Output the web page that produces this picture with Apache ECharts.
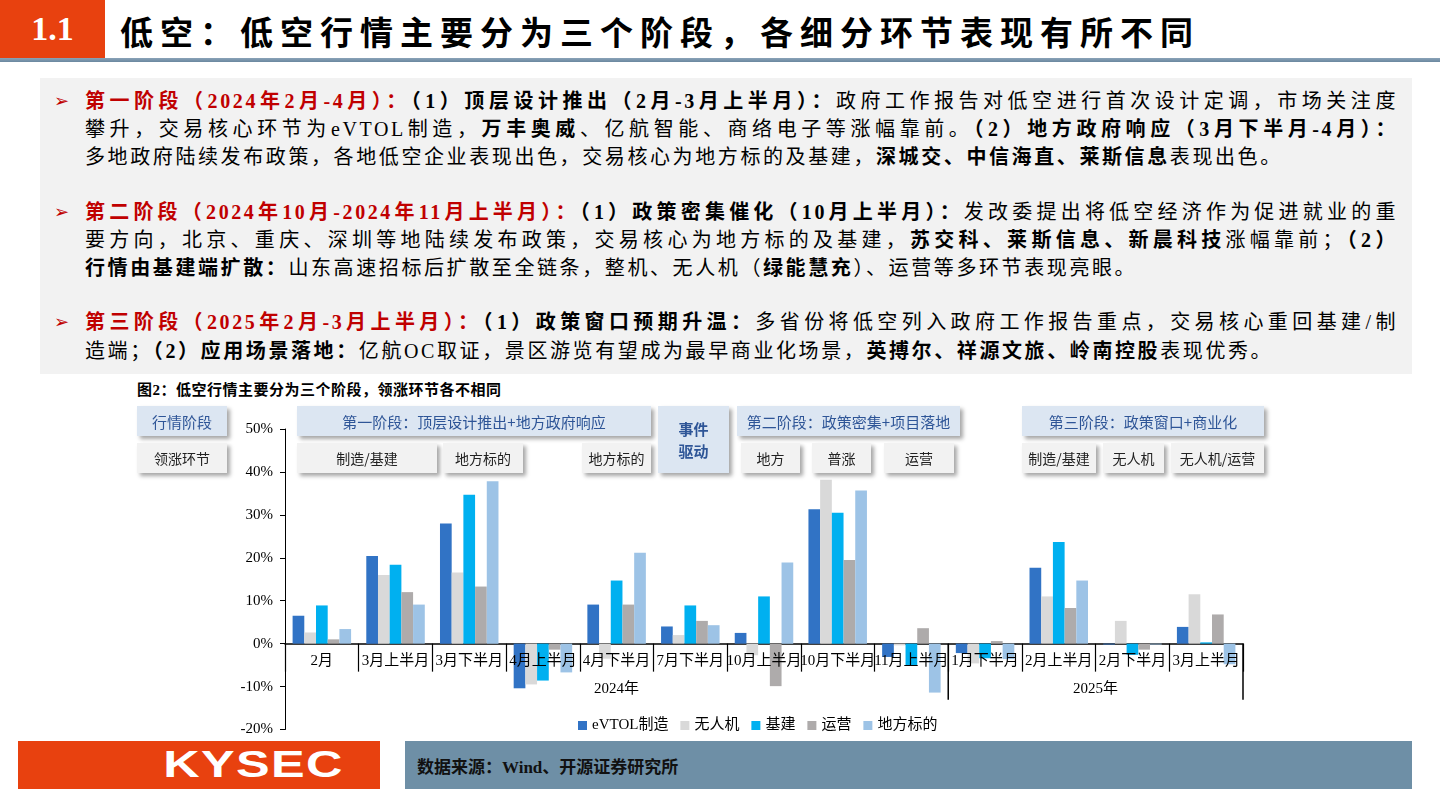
<!DOCTYPE html>
<html><head><meta charset="utf-8">
<script src="https://cdn.jsdelivr.net/npm/echarts/dist/echarts.min.js"></script>
<style>
body{margin:0;width:1440px;height:810px;position:relative;background:#fff;overflow:hidden;font-family:"Liberation Serif","Noto Sans CJK SC",serif;color:#000;}
.abs{position:absolute;}
#titlebox{left:0;top:0;width:105px;height:58px;background:#E8410F;color:#fff;font:bold 34px "Liberation Serif",serif;display:flex;align-items:center;justify-content:center;}
#title{left:120px;top:7px;font-size:33px;font-weight:bold;letter-spacing:7px;white-space:nowrap;font-family:"Noto Sans CJK SC",sans-serif;}
#uline{left:0;top:58px;width:1440px;height:4px;background:linear-gradient(#8aa3b8,#6a879f);}
#block{left:40px;top:78px;width:1372px;height:296px;background:#F2F2F2;}
.ln{position:absolute;left:85px;width:1313px;font-size:20px;letter-spacing:2.6px;white-space:nowrap;line-height:28px;}
.j{text-align:justify;text-align-last:justify;white-space:normal;}
.red{color:#C00000;font-weight:bold;}
b{font-weight:bold;}
.arr{position:absolute;left:54px;color:#C00000;font-size:18px;line-height:28px;}
#cap{left:137px;top:378px;font-size:15px;font-weight:bold;letter-spacing:0.5px;white-space:nowrap;}
#chart{left:0;top:0;width:1440px;height:810px;z-index:1;}
.hb{position:absolute;z-index:2;background:#DCE6F2;color:#2E5597;box-shadow:3px 3px 4px rgba(0,0,0,0.35);display:flex;align-items:center;justify-content:center;font-size:15px;height:30px;top:406px;font-family:"Noto Sans CJK SC",sans-serif;white-space:nowrap;}
.sb{background:#F2F2F2;color:#222;top:443px;font-size:14px;}
#foot1{left:18px;top:741px;width:362px;height:48px;background:#E8410F;display:flex;align-items:center;justify-content:center;padding-left:110px;box-sizing:border-box;}
#foot1 span{color:#fff;font:bold 36px "Liberation Sans",Arial,sans-serif;display:inline-block;transform:scaleX(1.4);letter-spacing:1px;}
#foot2{left:405px;top:741px;width:1007px;height:48px;background:#6E8FA6;color:#111;font-size:17px;font-weight:bold;display:flex;align-items:center;padding-left:12px;box-sizing:border-box;}
</style></head>
<body>
<div id="titlebox" class="abs">1.1</div>
<div id="title" class="abs">低空：低空行情主要分为三个阶段，各细分环节表现有所不同</div>
<div id="uline" class="abs"></div>
<div id="block" class="abs"></div>
<div class="arr" style="top:87px">➢</div>
<div class="ln j" style="top:87px"><span class="red">第一阶段（2024年2月-4月）：</span><b>（1）顶层设计推出（2月-3月上半月）：</b>政府工作报告对低空进行首次设计定调，市场关注度</div>
<div class="ln j" style="top:115px">攀升，交易核心环节为eVTOL制造，<b>万丰奥威</b>、亿航智能、商络电子等涨幅靠前。<b>（2）地方政府响应（3月下半月-4月）：</b></div>
<div class="ln" style="top:143px">多地政府陆续发布政策，各地低空企业表现出色，交易核心为地方标的及基建，<b>深城交、中信海直、莱斯信息</b>表现出色。</div>
<div class="arr" style="top:198px">➢</div>
<div class="ln j" style="top:198px"><span class="red">第二阶段（2024年10月-2024年11月上半月）：</span><b>（1）政策密集催化（10月上半月）：</b>发改委提出将低空经济作为促进就业的重</div>
<div class="ln j" style="top:226px">要方向，北京、重庆、深圳等地陆续发布政策，交易核心为地方标的及基建，<b>苏交科、莱斯信息、新晨科技</b>涨幅靠前；<b>（2）</b></div>
<div class="ln" style="top:254px"><b>行情由基建端扩散：</b>山东高速招标后扩散至全链条，整机、无人机（<b>绿能慧充</b>）、运营等多环节表现亮眼。</div>
<div class="arr" style="top:308px">➢</div>
<div class="ln j" style="top:308px"><span class="red">第三阶段（2025年2月-3月上半月）：</span><b>（1）政策窗口预期升温：</b>多省份将低空列入政府工作报告重点，交易核心重回基建/制</div>
<div class="ln" style="top:337px">造端；<b>（2）应用场景落地：</b>亿航OC取证，景区游览有望成为最早商业化场景，<b>英搏尔、祥源文旅、岭南控股</b>表现优秀。</div>
<div id="cap" class="abs">图2：低空行情主要分为三个阶段，领涨环节各不相同</div>
<div id="chart" class="abs"></div>
<div class="hb" style="left:137px;width:90px;">行情阶段</div>
<div class="hb sb" style="left:137px;width:90px;">领涨环节</div>
<div class="hb" style="left:297px;width:354px;">第一阶段：顶层设计推出+地方政府响应</div>
<div class="hb sb" style="left:297px;width:140px;">制造/基建</div>
<div class="hb sb" style="left:443px;width:80px;">地方标的</div>
<div class="hb sb" style="left:582px;width:69px;">地方标的</div>
<div class="hb" style="left:658px;width:71px;height:67px;flex-direction:column;font-weight:bold;line-height:22px;"><span>事件</span><span>驱动</span></div>
<div class="hb" style="left:737px;width:223px;">第二阶段：政策密集+项目落地</div>
<div class="hb sb" style="left:741px;width:59px;">地方</div>
<div class="hb sb" style="left:812px;width:59px;">普涨</div>
<div class="hb sb" style="left:884px;width:70px;">运营</div>
<div class="hb" style="left:1022px;width:242px;">第三阶段：政策窗口+商业化</div>
<div class="hb sb" style="left:1022px;width:74px;">制造/基建</div>
<div class="hb sb" style="left:1103px;width:61px;">无人机</div>
<div class="hb sb" style="left:1171px;width:93px;">无人机/运营</div>
<div id="foot1" class="abs"><span>KYSEC</span></div>
<div id="foot2" class="abs">数据来源：Wind、开源证券研究所</div>
<script>
const categories = ['2月','3月上半月','3月下半月','4月上半月','4月下半月','7月下半月','10月上半月','10月下半月','11月上半月','1月下半月','2月上半月','2月下半月','3月上半月'];
const years = ['2024年','2025年'];
const yearSpans = [9, 4];
const seriesNames = ['eVTOL制造','无人机','基建','运营','地方标的'];
const evtol = [6.5, 20.4, 28.0, -10.4, 9.1, 4.0, 2.5, 31.3, -3.1, -2.2, 17.7, -0.2, 3.9];
const drone = [2.6, 16.0, 16.6, -9.5, -3.5, 2.0, -2.7, 38.2, -0.4, -4.6, 11.0, 5.3, 11.5];
const infra = [8.9, 18.4, 34.7, -8.6, 14.7, 8.9, 11.0, 30.5, -5.0, -3.4, 23.7, -2.6, 0.3];
const ops = [1.0, 12.0, 13.3, -1.4, 9.1, 5.3, -9.9, 19.5, 3.6, 0.6, 8.3, -1.4, 6.8];
const local = [3.4, 9.1, 37.8, -6.7, 21.2, 4.3, 18.9, 35.7, -11.4, -3.6, 14.7, -0.2, -4.8];
const colors = ['#3173C5','#D9D9D9','#00B0F0','#AEABAB','#9DC3E6'];
const yTicks = {min:-20, max:50, interval:10};

const FONT = '"Liberation Serif","Noto Sans CJK SC",serif';
const chart = echarts.init(document.getElementById('chart'), null, {renderer:'canvas'});
const dataSets = [evtol, drone, infra, ops, local];
const option = {
  animation:false,
  color: colors,
  grid:{left:285, right:197, top:429, bottom:80.5, containLabel:false},
  legend:{left:573, top:713, itemWidth:9, itemHeight:9, itemGap:12, icon:'rect',
    textStyle:{fontFamily:FONT, fontSize:15, color:'#000'}, data:seriesNames},
  xAxis:{type:'category', data:categories,
    axisLine:{onZero:true, lineStyle:{color:'#000', width:1.5}},
    axisTick:{show:true, interval:0, length:28, lineStyle:{color:'#000', width:1.2}},
    axisLabel:{show:false}},
  yAxis:{type:'value', min:yTicks.min, max:yTicks.max, interval:yTicks.interval,
    splitLine:{show:false},
    axisLine:{show:true, lineStyle:{color:'#000', width:1}},
    axisTick:{show:true, length:5, lineStyle:{color:'#000'}},
    axisLabel:{formatter:'{value}%', margin:12, fontFamily:FONT, fontSize:15, color:'#000'}},
  series: seriesNames.map((n,i)=>({name:n, type:'bar', data:dataSets[i], barWidth:11.7, barGap:'0%'}))
};
chart.setOption(option);
const px = i => chart.convertToPixel({xAxisIndex:0}, i);
const y0 = chart.convertToPixel({yAxisIndex:0}, 0);
const band = px(1) - px(0);
const g = [];
categories.forEach((c,i)=>{
  g.push({type:'text', x:px(i), y:y0+17, z:10, style:{text:c, font:'15px '+FONT, align:'center', verticalAlign:'middle', textAlign:'center', textVerticalAlign:'middle', fill:'#000'}});
});
let start = 0;
yearSpans.forEach((n,k)=>{
  const x1 = px(start) - band/2, x2 = px(start+n-1) + band/2;
  g.push({type:'text', x:(x1+x2)/2, y:y0+45, style:{text:years[k], font:'15px '+FONT, align:'center', verticalAlign:'middle', textAlign:'center', textVerticalAlign:'middle', fill:'#000'}});
  g.push({type:'line', shape:{x1:x2, y1:y0, x2:x2, y2:y0+56}, style:{stroke:'#000', lineWidth:1.5}});
  start += n;
});
chart.setOption({graphic:g});
</script>
</body></html>
